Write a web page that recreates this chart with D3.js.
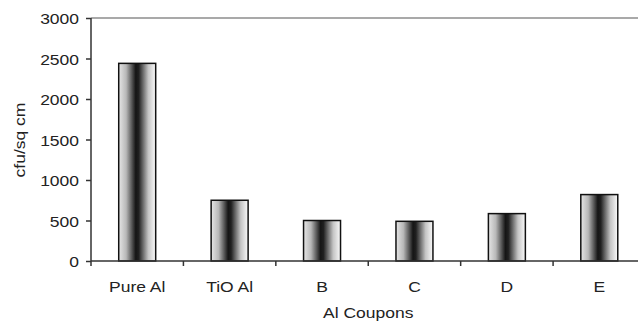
<!DOCTYPE html>
<html>
<head>
<meta charset="utf-8">
<script src="https://cdn.jsdelivr.net/npm/d3@7"></script>
<style>
  html, body { margin: 0; padding: 0; background: #fff; }
  svg { display: block; }
  text { font-family: "Liberation Sans", Arial, sans-serif; fill: #222; }
</style>
</head>
<body>
<div id="chart"></div>
<script>
// Colony counts on aluminium coupons
const categories = ["Pure Al", "TiO Al", "B", "C", "D", "E"];
const values = [2440, 750, 500, 490, 585, 820];
const yTicks = [0, 500, 1000, 1500, 2000, 2500, 3000];
const yTitle = "cfu/sq cm";
const xTitle = "Al Coupons";

const W = 638, H = 323;
const plot = { left: 91, right: 645.5, top: 18, bottom: 261 };
const fontSize = 15.5;
const stretch = 1.13;

const svg = d3.select("#chart").append("svg")
  .attr("width", W).attr("height", H);

// Cylinder-like shading across each bar
const grad = svg.append("defs").append("linearGradient")
  .attr("id", "barShade").attr("x1", "0%").attr("x2", "100%").attr("y1", "0%").attr("y2", "0%");
[[0, "#e6e6e6"], [0.2, "#b8b8b8"], [0.46, "#151515"], [0.54, "#202020"], [0.8, "#c4c4c4"], [1, "#fbfbfb"]]
  .forEach(([o, c]) => grad.append("stop").attr("offset", o).attr("stop-color", c));

const x = d3.scaleBand().domain(categories).range([plot.left, plot.right]).padding(0);
const y = d3.scaleLinear().domain([0, 3000]).range([plot.bottom, plot.top]);

// Top border of the plot area
svg.append("line")
  .attr("x1", plot.left).attr("x2", plot.right)
  .attr("y1", y(3000)).attr("y2", y(3000))
  .attr("stroke", "#8c8c8c").attr("stroke-width", 1.5);

// Bars
const barW = x.bandwidth() * 0.4;
svg.append("g").selectAll("rect").data(categories).join("rect")
  .attr("x", d => x(d) + (x.bandwidth() - barW) / 2)
  .attr("y", (d, i) => y(values[i]))
  .attr("width", barW)
  .attr("height", (d, i) => y(0) - y(values[i]))
  .attr("fill", "url(#barShade)")
  .attr("stroke", "#111").attr("stroke-width", 1.5);

// Y axis
const yAxis = svg.append("g").attr("transform", `translate(${plot.left},0)`)
  .call(d3.axisLeft(y).tickValues(yTicks).tickSize(5).tickPadding(8).tickFormat(d3.format("d")));
yAxis.select(".domain").attr("stroke", "#333").attr("stroke-width", 1.5)
  .attr("d", `M0,${plot.top}V${plot.bottom}`);
yAxis.selectAll(".tick line").attr("stroke", "#333").attr("stroke-width", 1.5);
yAxis.selectAll(".tick text")
  .attr("font-size", fontSize).attr("dy", null).attr("dominant-baseline", null)
  .attr("y", 0)
  .attr("transform", function () {
    return `translate(-8,5.5) scale(${stretch},1) translate(8,0)`;
  })
  .attr("x", -13 / stretch)
  .style("font-family", "Liberation Sans, Arial, sans-serif");

// X axis with ticks between categories
const xAxisG = svg.append("g").attr("transform", `translate(0,${plot.bottom})`);
xAxisG.append("line")
  .attr("x1", plot.left).attr("x2", plot.right)
  .attr("stroke", "#333").attr("stroke-width", 1.5);
const bounds = categories.map(c => x(c)).concat([x(categories[categories.length - 1]) + x.bandwidth()]);
xAxisG.selectAll(".xtick").data(bounds).join("line").attr("class", "xtick")
  .attr("x1", d => d).attr("x2", d => d).attr("y1", 0).attr("y2", 5)
  .attr("stroke", "#333").attr("stroke-width", 1.5);
xAxisG.selectAll(".xlabel").data(categories).join("text").attr("class", "xlabel")
  .attr("text-anchor", "middle").attr("font-size", fontSize)
  .attr("transform", d => `translate(${x(d) + x.bandwidth() / 2},31) scale(${stretch},1)`)
  .text(d => d);

// Axis titles
svg.append("text")
  .attr("text-anchor", "middle").attr("font-size", fontSize)
  .attr("transform", `translate(${(plot.left + plot.right) / 2},318) scale(${stretch},1)`)
  .text(xTitle);
svg.append("text")
  .attr("text-anchor", "middle").attr("font-size", fontSize)
  .attr("transform", `translate(25,140) rotate(-90) scale(${stretch},1)`)
  .text(yTitle);
</script>
</body>
</html>
